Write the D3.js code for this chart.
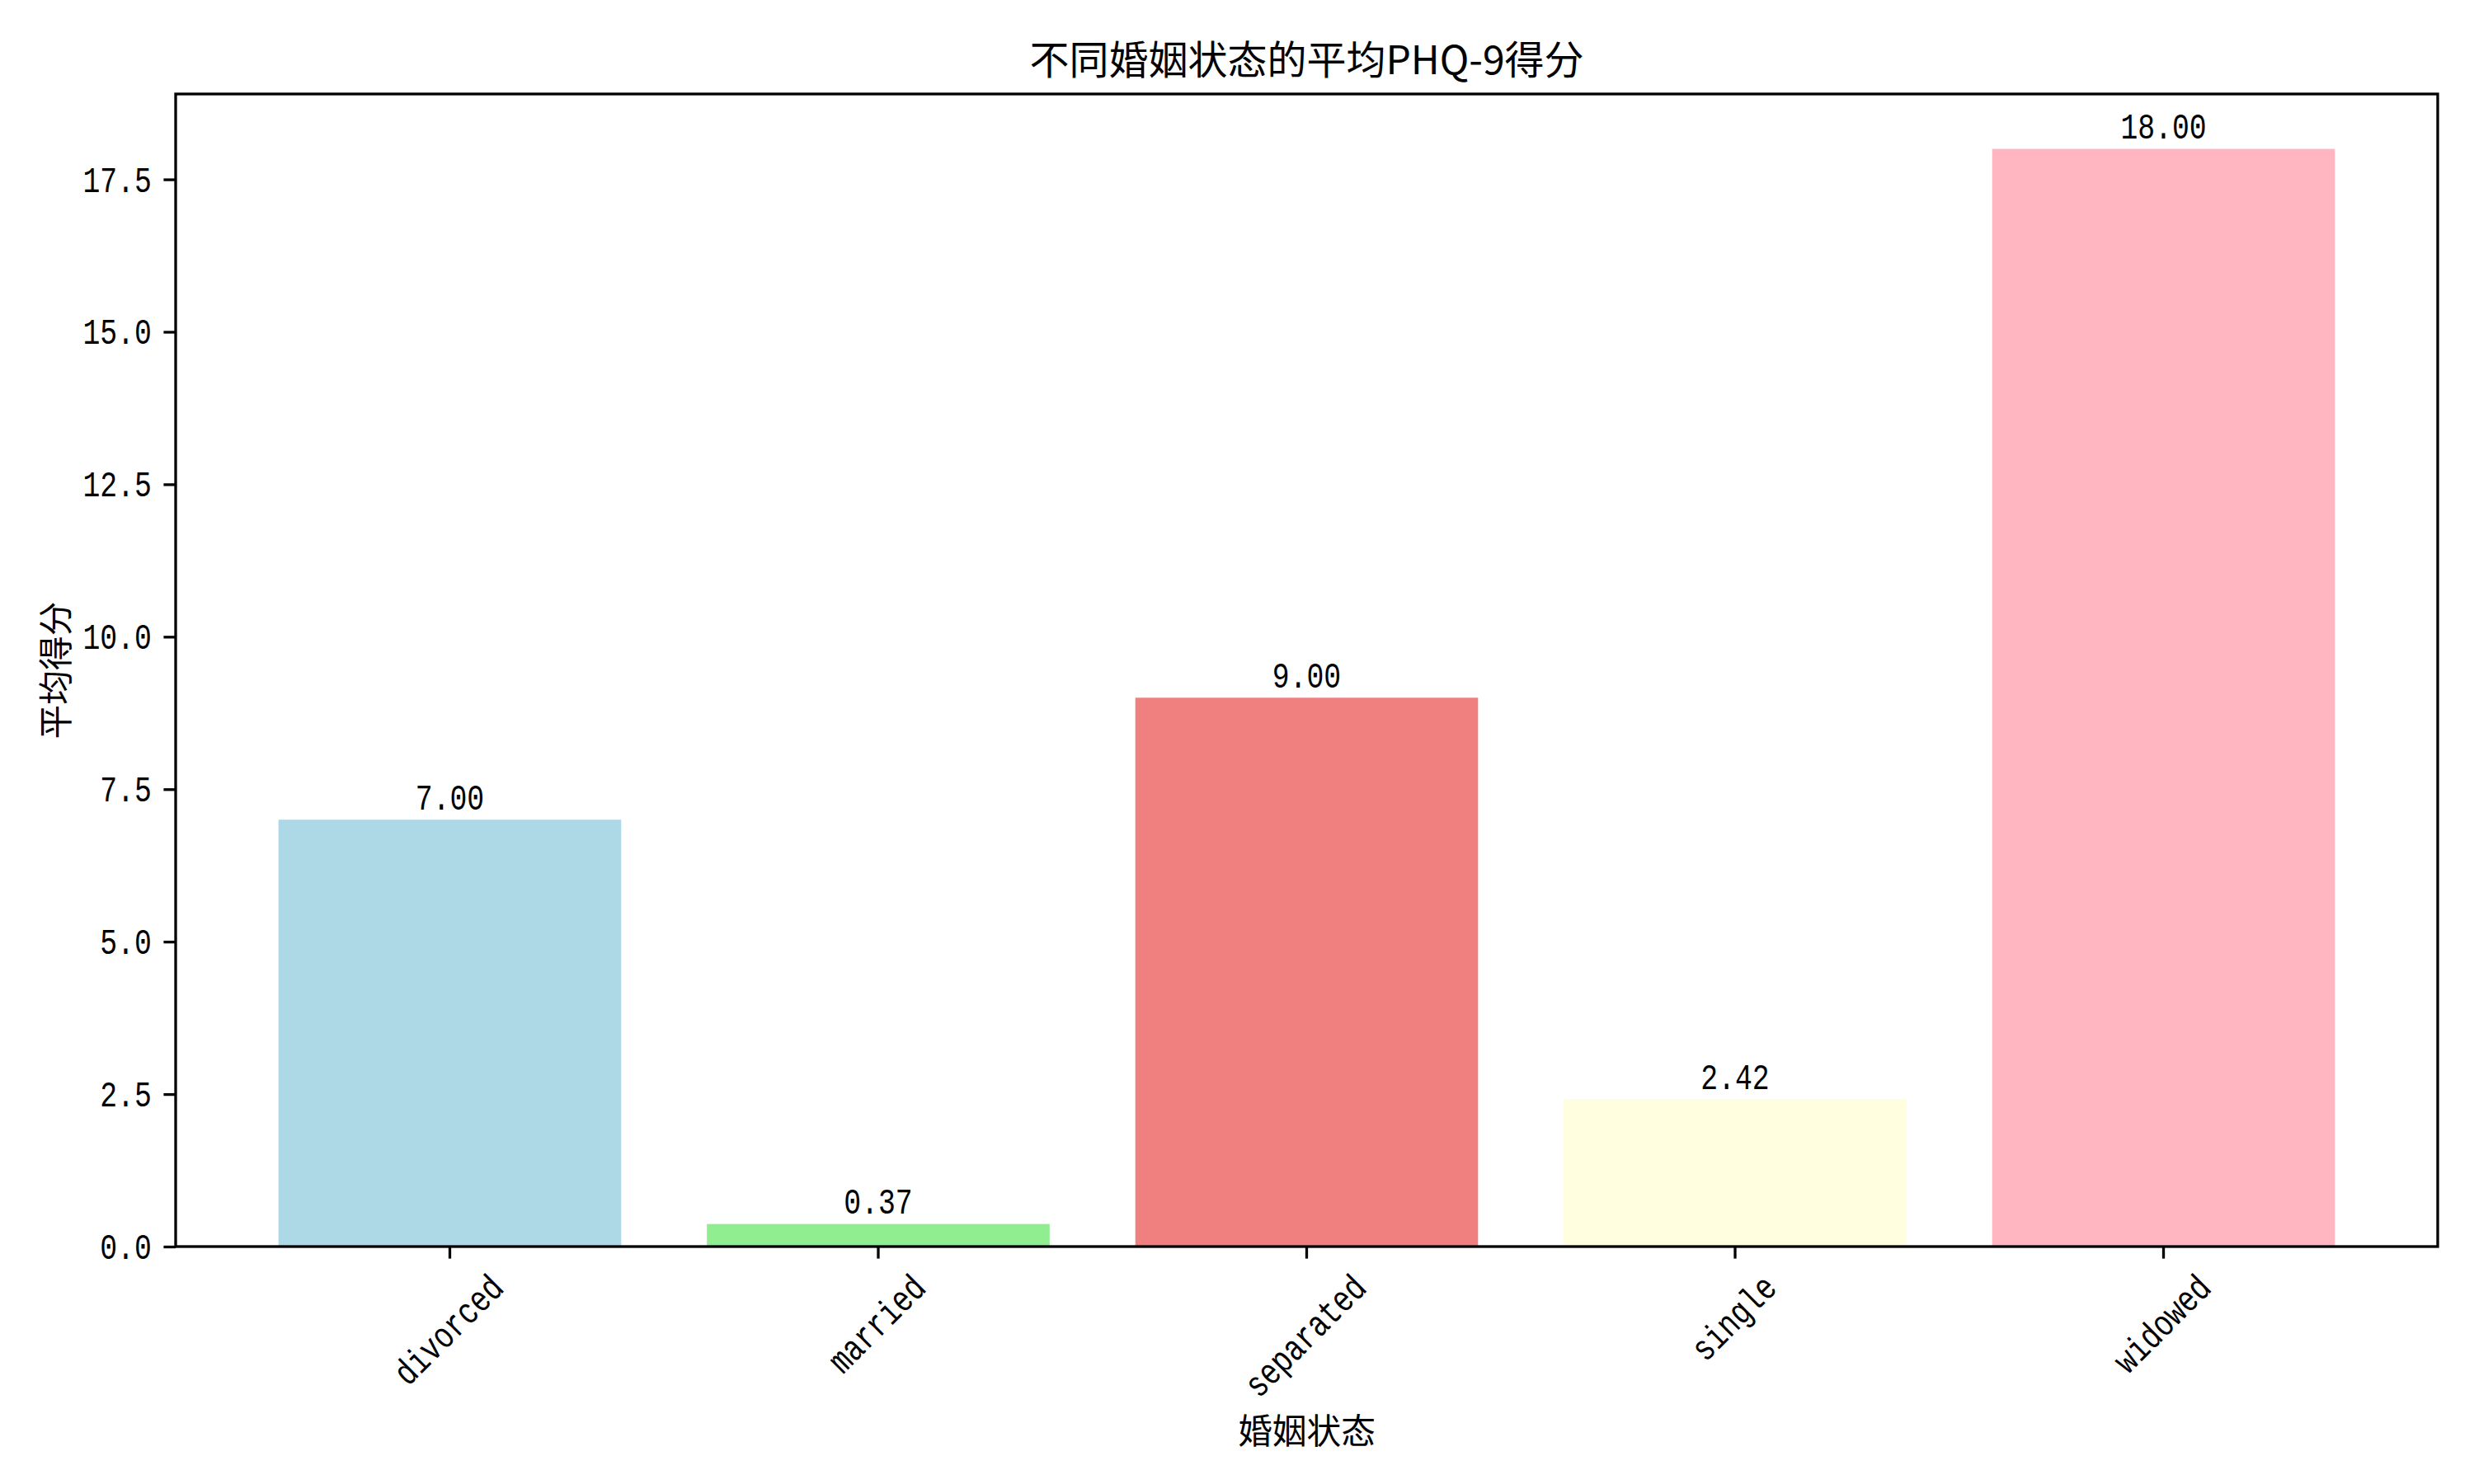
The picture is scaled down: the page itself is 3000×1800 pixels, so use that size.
<!DOCTYPE html>
<html>
<head>
<meta charset="utf-8">
<script src="https://cdn.jsdelivr.net/npm/d3@7"></script>
<style>
  body { margin: 0; background: #fff; }
  svg { display: block; }
</style>
</head>
<body>
<svg id="chart" width="3000" height="1800"></svg>
<script>
// data
const categories = ["divorced", "married", "separated", "single", "widowed"];
const scores = [7.00, 0.37, 9.00, 2.42, 18.00];
const barColors = ["#ADD8E6", "#90EE90", "#F08080", "#FFFFE0", "#FFB6C1"];
const yTicks = [0, 2.5, 5, 7.5, 10, 12.5, 15, 17.5];
const title = "不同婚姻状态的平均PHQ-9得分";
const xTitle = "婚姻状态";
const yTitle = "平均得分";

let svg = d3.select("#chart"),
    margin = {top: 114, right: 44, bottom: 288, left: 213},
    W = 3000, H = 1800,
    width = W - margin.left - margin.right,
    height = H - margin.top - margin.bottom;

const fs = 41.7;            // 10pt at 300dpi
const cjk = "'Noto Sans CJK SC', 'Noto Sans', sans-serif";
const mono = "'Liberation Mono', 'DejaVu Sans Mono', monospace";
const tickLen = 14.6, tickPad = 14.6, lw = 3.3;

svg.append("rect").attr("width", W).attr("height", H).attr("fill", "#fff");

let x = d3.scaleBand()
    .domain(categories)
    .range([margin.left, margin.left + width])
    .paddingInner(0.2)
    .paddingOuter(0.24);

let y = d3.scaleLinear()
    .domain([0, d3.max(scores) * 1.05])
    .range([margin.top + height, margin.top]);

// half-width latin text, like SimHei
function narrow(sel) {
    sel.attr("font-family", mono)
        .attr("font-size", fs * 1.06)
        .attr("lengthAdjust", "spacingAndGlyphs")
        .attr("textLength", function() { return this.textContent.length * 0.5 * fs; });
}

const data = categories.map((c, i) => ({cat: c, v: scores[i], color: barColors[i]}));

svg.selectAll("rect.bar").data(data).enter()
    .append("rect")
    .classed("bar", true)
    .attr("x", d => x(d.cat))
    .attr("width", x.bandwidth())
    .attr("y", d => y(d.v))
    .attr("height", d => y(0) - y(d.v))
    .attr("fill", d => d.color);

svg.selectAll("text.val").data(data).enter()
    .append("text")
    .classed("val", true)
    .attr("x", d => x(d.cat) + x.bandwidth() / 2)
    .attr("y", d => y(d.v + 0.1) - 5)
    .attr("text-anchor", "middle")
    .text(d => d.v.toFixed(2))
    .call(narrow);

// y axis
let gy = svg.append("g")
    .attr("transform", "translate(" + margin.left + ",0)")
    .call(d3.axisLeft(y)
        .tickValues(yTicks)
        .tickFormat(d3.format(".1f"))
        .tickSize(tickLen)
        .tickPadding(tickPad));
gy.select(".domain").remove();
gy.selectAll(".tick line").attr("stroke", "#000").attr("stroke-width", lw);
gy.selectAll(".tick text")
    .attr("dy", null)
    .attr("y", 14.5)
    .attr("fill", "#000")
    .call(narrow);

// x axis
let gx = svg.append("g")
    .attr("transform", "translate(0," + (margin.top + height) + ")")
    .call(d3.axisBottom(x).tickSize(tickLen).tickPadding(0));
gx.select(".domain").remove();
gx.selectAll(".tick line").attr("stroke", "#000").attr("stroke-width", lw);
gx.selectAll(".tick text")
    .attr("fill", "#000")
    .attr("dy", null)
    .attr("text-anchor", "middle")
    .attr("dominant-baseline", "central")
    .call(narrow)
    .each(function(d) {
        const w = d.length * 0.5 * fs;
        const cy = tickLen + tickPad + (w + fs) * Math.SQRT1_2 / 2;
        d3.select(this)
            .attr("x", 0)
            .attr("y", 0)
            .attr("transform", "translate(0," + cy + ") rotate(-45)");
    });

// frame
svg.append("rect")
    .attr("x", margin.left)
    .attr("y", margin.top)
    .attr("width", width)
    .attr("height", height)
    .attr("fill", "none")
    .attr("stroke", "#000")
    .attr("stroke-width", lw);

svg.append("text")
    .attr("x", margin.left + width / 2)
    .attr("y", 69)
    .attr("text-anchor", "middle")
    .attr("dominant-baseline", "central")
    .attr("font-family", cjk)
    .attr("font-size", 48)
    .text(title);

svg.append("text")
    .attr("x", margin.left + width / 2)
    .attr("y", 1733)
    .attr("text-anchor", "middle")
    .attr("dominant-baseline", "central")
    .attr("font-family", cjk)
    .attr("font-size", fs)
    .text(xTitle);

svg.append("text")
    .attr("transform", "translate(65," + (margin.top + height / 2) + ") rotate(-90)")
    .attr("text-anchor", "middle")
    .attr("dominant-baseline", "central")
    .attr("font-family", cjk)
    .attr("font-size", fs)
    .text(yTitle);
</script>
</body>
</html>
